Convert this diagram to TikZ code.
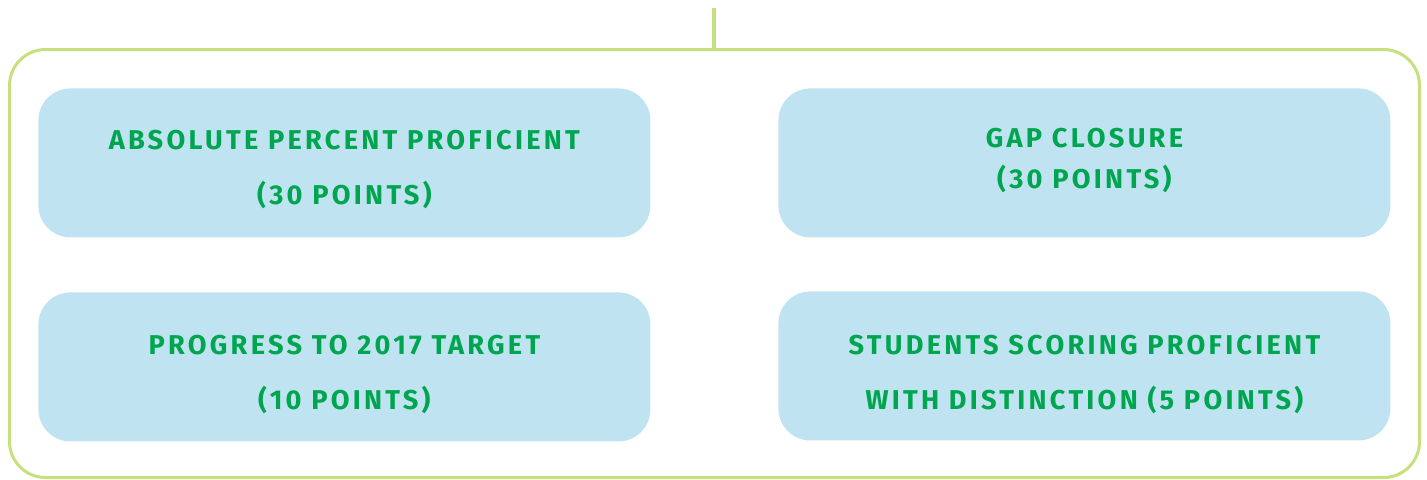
\documentclass[tikz,border=0pt]{standalone}
\usepackage{fontspec}
\setmainfont{Fira Sans}[LetterSpace=12]
\definecolor{frameg}{HTML}{C6E07E}
\definecolor{boxb}{HTML}{C0E3F2}
\definecolor{txtg}{HTML}{00A54F}
\begin{document}
\begin{tikzpicture}[x=0.5pt,y=-0.5pt,
  frame/.style={draw=frameg, line width=1.5pt, rounded corners=18pt},
  box/.style={fill=boxb, rounded corners=16pt, minimum width=306pt, minimum height=74.5pt,
    inner sep=0pt, anchor=north west},
  lbl/.style={text=txtg, font=\fontsize{13.6}{16}\selectfont\bfseries, align=center, inner sep=0pt}]
\useasboundingbox (0,0) rectangle (1427,479);
\coordinate (top) at (714,8);
\draw[frame] (9.5,49.5) rectangle (1419.5,477.5);
\coordinate (frametop) at (714,49.5);
\draw[draw=frameg, line width=2pt] (top) -- (frametop);
\node[box] (b1) at (38,88) {};
\node[box] (b2) at (778,88) {};
\node[box] (b3) at (38,292) {};
\node[box] (b4) at (778,291) {};
\node[lbl, yshift=-3.5pt] (t1) at (b1.center) {ABSOLUTE PERCENT PROFICIENT\\[11.5pt](30 POINTS)};
\node[lbl, yshift=1pt] (t2) at (b2.center) {GAP CLOSURE\\[4.5pt](30 POINTS)};
\node[lbl, yshift=-3.75pt] (t3) at (b3.center) {PROGRESS TO 2017 TARGET\\[11.5pt](10 POINTS)};
\node[lbl, yshift=-4.25pt] (t4) at (b4.center) {STUDENTS SCORING PROFICIENT\\[11.5pt]WITH DISTINCTION (5 POINTS)};
\end{tikzpicture}
\end{document}
